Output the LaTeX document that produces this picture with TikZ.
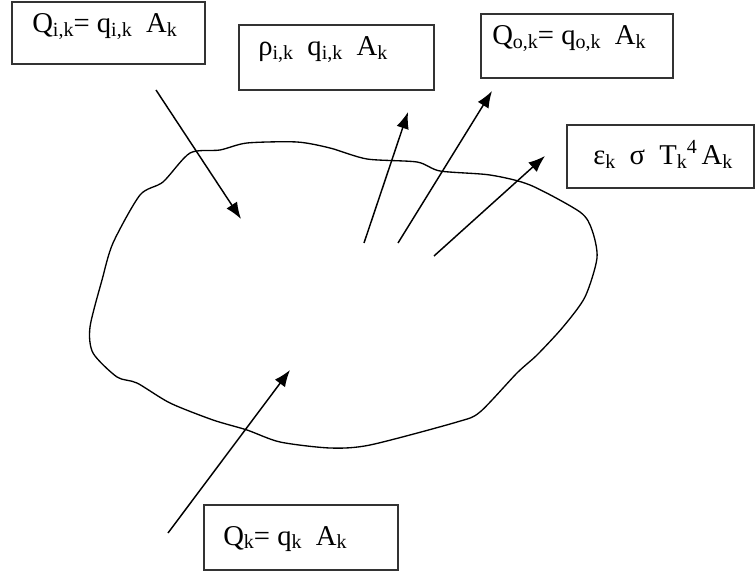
\documentclass[tikz,border=0pt]{standalone}
\usepackage{fontspec}
\setmainfont{Liberation Serif}
\usetikzlibrary{arrows.meta}
\newcommand{\lowsub}[1]{\raisebox{-0.3ex}{\fontsize{15pt}{15pt}\selectfont #1}}
\newcommand{\highsup}[1]{\raisebox{0.85ex}{\fontsize{15pt}{15pt}\selectfont #1}}
\tikzset{
  fbox/.style={draw=black!80, line width=1.4pt, rectangle, inner sep=0pt},
  lbl/.style={anchor=base west, inner sep=0pt, font=\fontsize{21.5pt}{23pt}\selectfont},
  flux/.style={line width=1.1pt, -{Latex[length=12.5pt,width=9.5pt]}},
  rim/.style={line width=1pt}
}
\begin{document}
\begin{tikzpicture}[x=0.75pt,y=-0.75pt]
\useasboundingbox (0,0) rectangle (756,577);
% boxes
\node[fbox, minimum width=193*0.75pt, minimum height=62*0.75pt] (b1) at (108.5,33) {};
\node[fbox, minimum width=195*0.75pt, minimum height=65*0.75pt] (b2) at (336.5,57.5) {};
\node[fbox, minimum width=192*0.75pt, minimum height=64*0.75pt] (b3) at (577,46) {};
\node[fbox, minimum width=187*0.75pt, minimum height=63*0.75pt] (b4) at (660.5,156.5) {};
\node[fbox, minimum width=194*0.75pt, minimum height=65*0.75pt] (b5) at (301,537.5) {};
% labels
\node[lbl] (t1) at (32,33) {Q\lowsub{i,k}= q\lowsub{i,k}~~A\lowsub{k}};
\node[lbl] (t2) at (258,56) {ρ\lowsub{i,k}~~q\lowsub{i,k}~~A\lowsub{k}};
\node[lbl] (t3) at (492,45) {Q\lowsub{o,k}= q\lowsub{o,k}~~A\lowsub{k}};
\node[lbl] (t4) at (593,165) {ε\lowsub{k}~~σ~~T\lowsub{k}\highsup{4}\,A\lowsub{k}};
\node[lbl] (t5) at (223,545) {Q\lowsub{k}= q\lowsub{k}~~A\lowsub{k}};
% surface
\draw[rim] plot[smooth cycle, tension=0.45] coordinates {
 (190,153) (220,150) (247,143) (297,142) (330,148) (367,159) (417,162)
 (440,171) (490,175) (530,185) (580,212) (592,230) (597,258) (585,297)
 (563,327) (537,355) (517,373) (480,412) (457,422) (370,445) (330,448)
 (280,442) (247,430) (213,420) (170,403) (137,383) (117,377) (93,353)
 (90,327) (102,280) (113,243) (140,195) (163,182)};
% arrow end points
\coordinate (a1s) at (156,90);  \coordinate (a1e) at (241,219);
\coordinate (a2s) at (364,243); \coordinate (a2e) at (408,112);
\coordinate (a3s) at (398,243); \coordinate (a3e) at (492,91);
\coordinate (a4s) at (434,256); \coordinate (a4e) at (545,156);
\coordinate (a5s) at (168,533); \coordinate (a5e) at (290,370);
\draw[flux] (a1s) -- (a1e);
\draw[flux] (a2s) -- (a2e);
\draw[flux] (a3s) -- (a3e);
\draw[flux] (a4s) -- (a4e);
\draw[flux] (a5s) -- (a5e);
\end{tikzpicture}
\end{document}
